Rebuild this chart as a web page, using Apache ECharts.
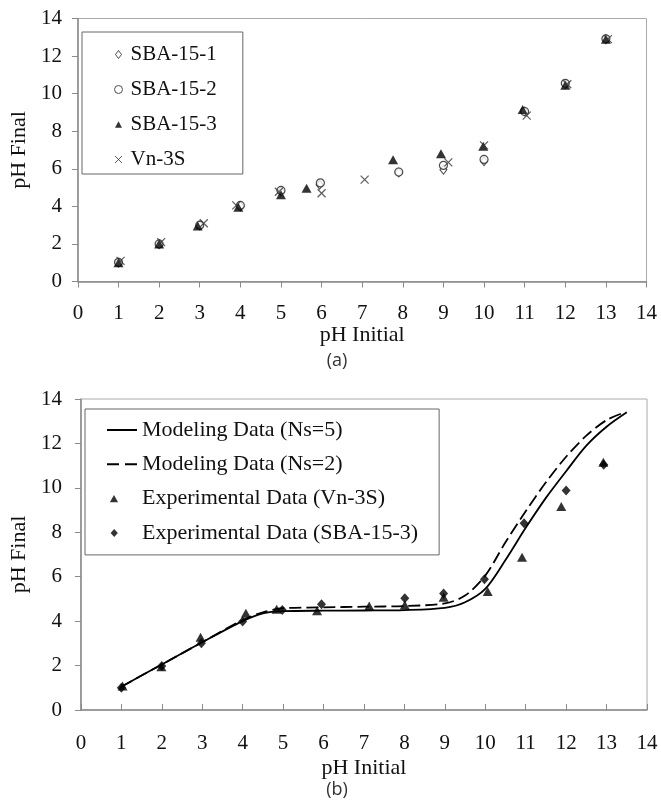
<!DOCTYPE html>
<html>
<head>
<meta charset="utf-8">
<script src="https://cdn.jsdelivr.net/npm/echarts@6/dist/echarts.min.js"></script>
<style>
html, body { margin: 0; padding: 0; background: #fff; }
#main { width: 661px; height: 807px; }
</style>
</head>
<body>
<div id="main"></div>
<script>
// (a) experimental points, [pH initial, pH final]
var sba1 = [[1, 1.0], [2, 1.98], [3, 2.98], [4, 4.0], [5, 4.8], [5.95, 5.15], [7.9, 5.8], [9, 5.95], [10, 6.4], [11, 9.05], [12, 10.5], [13, 12.9]];
var sba2 = [[1, 1.02], [2, 2.0], [3, 3.0], [4, 4.05], [5, 4.85], [5.97, 5.25], [7.9, 5.83], [9, 6.18], [10, 6.5], [11, 9.05], [12, 10.55], [13, 12.92]];
var sba3 = [[1, 1.0], [2, 2.0], [2.95, 2.95], [3.95, 3.95], [5, 4.62], [5.63, 4.97], [7.76, 6.48], [8.94, 6.8], [9.98, 7.2], [10.95, 9.15], [12, 10.45], [13, 12.9]];
var vn3s = [[1.05, 1.1], [2.05, 2.1], [3.1, 3.1], [3.9, 4.05], [4.95, 4.78], [6.0, 4.7], [7.06, 5.42], [9.12, 6.34], [10.0, 7.25], [11.05, 8.83], [12.05, 10.5], [13.05, 12.9]];

// (b) model curves and experimental points
var modelNs5 = [[1.0, 1.05], [2, 2.05], [3, 3.05], [4, 4.0], [4.5, 4.35], [5, 4.45], [6, 4.47], [7, 4.48], [8, 4.5], [9, 4.6], [9.5, 4.85], [10, 5.45], [10.5, 6.75], [11, 8.2], [11.5, 9.55], [12, 10.75], [12.5, 11.9], [13, 12.75], [13.5, 13.4]];
var modelNs2 = [[1.0, 1.05], [2, 2.05], [3, 3.05], [4, 4.05], [4.5, 4.4], [5, 4.58], [6, 4.62], [7, 4.65], [8, 4.68], [9, 4.8], [9.5, 5.15], [10, 6.05], [10.5, 7.55], [11, 8.95], [11.5, 10.25], [12, 11.4], [12.5, 12.35], [13, 13.05], [13.45, 13.4]];
var expVn3s = [[1.03, 1.08], [1.99, 1.95], [2.96, 3.27], [4.08, 4.35], [4.84, 4.53], [5.84, 4.47], [7.13, 4.68], [8.01, 4.73], [8.97, 5.08], [10.06, 5.33], [10.91, 6.88], [11.88, 9.16], [12.92, 11.15]];
var expSba3 = [[1.0, 1.0], [2.0, 1.98], [2.98, 3.0], [4.0, 3.98], [4.98, 4.5], [5.95, 4.76], [8.01, 5.03], [8.97, 5.25], [9.98, 5.89], [10.96, 8.41], [12.0, 9.88], [12.93, 11.04]];

var legendA = ['SBA-15-1', 'SBA-15-2', 'SBA-15-3', 'Vn-3S'];
var legendB = ['Modeling Data (Ns=5)', 'Modeling Data (Ns=2)', 'Experimental Data (Vn-3S)', 'Experimental Data (SBA-15-3)'];

var serif = '"Liberation Serif", "Times New Roman", serif';
var ink = '#111';
var axisGray = '#8a8a8a';

function xAxisOf(grid, tickInside, labelMargin, nameGap) {
  return {
    gridIndex: grid, type: 'value', min: 0, max: 14, interval: 1,
    name: 'pH Initial', nameLocation: 'middle', nameGap: nameGap,
    nameTextStyle: { fontFamily: serif, fontSize: 22, color: ink },
    axisLine: { lineStyle: { color: axisGray, width: 1.5 } },
    axisTick: { inside: tickInside, length: 6, lineStyle: { color: axisGray } },
    axisLabel: { margin: labelMargin, fontFamily: serif, fontSize: 21, color: ink },
    splitLine: { show: false }
  };
}
function yAxisOf(grid, labelMargin, nameGap) {
  return {
    gridIndex: grid, type: 'value', min: 0, max: 14, interval: 2,
    name: 'pH Final', nameLocation: 'middle', nameGap: nameGap,
    nameTextStyle: { fontFamily: serif, fontSize: 22, color: ink },
    axisLine: { show: true, lineStyle: { color: axisGray, width: 1.5 } },
    axisTick: { show: true, inside: false, length: 6, lineStyle: { color: axisGray } },
    axisLabel: { margin: labelMargin, fontFamily: serif, fontSize: 21, color: ink },
    splitLine: { show: false }
  };
}

var crossPath = 'path://M0,0L10,10M10,0L0,10';
// top legend icons
var diaIconA = 'path://M7,0L10,4L7,8L4,4ZM0,4L0,4M14,4L14,4';
var triIconA = 'path://M7,1L10.5,7.5L3.5,7.5ZM0,4L0,4M14,4L14,4';
var crossIconA = 'path://M3.5,0.5L10.5,7.5M10.5,0.5L3.5,7.5M0,4L0,4M14,4L14,4';
// bottom legend icons: line samples as thin bars, markers padded on the right
var solidIcon = 'path://M0,0H30V2H0Z';
var dashIcon = 'path://M0,0H12V2H0ZM18,0H30V2H18Z';
var triIcon = 'path://M9.3,0L14.8,9.5L3.8,9.5ZM0,4.75L0,4.75M40,4.75L40,4.75';
var diaIcon = 'path://M9.3,0L14.3,5.5L9.3,11L4.3,5.5ZM0,5.5L0,5.5M40,5.5L40,5.5';

var chart = echarts.init(document.getElementById('main'), null, { renderer: 'canvas' });
var option = {
  backgroundColor: '#fff',
  animation: false,
  grid: [
    { left: 68.5, top: 18.5, width: 578, height: 263, show: true, borderColor: '#aaa', borderWidth: 1 },
    { left: 65.5, top: 399, width: 581.5, height: 311, show: true, borderColor: '#aaa', borderWidth: 1 }
  ],
  xAxis: [xAxisOf(0, false, 21, 41), xAxisOf(1, true, 23, 47)],
  yAxis: [yAxisOf(0, 16, 25), yAxisOf(1, 19, 16)],
  legend: [
    {
      data: [
        { name: legendA[0], icon: diaIconA }, { name: legendA[1] },
        { name: legendA[2], icon: triIconA }, { name: legendA[3], icon: crossIconA }
      ],
      orient: 'vertical', left: 82, top: 32,
      padding: [12, 26, 4, 27], itemGap: 14, itemWidth: 14, itemHeight: 8,
      borderColor: '#666', borderWidth: 1, selectedMode: false,
      itemStyle: { borderWidth: 1 },
      textStyle: { fontFamily: serif, fontSize: 21, color: ink }
    },
    {
      data: [
        { name: legendB[0], icon: solidIcon }, { name: legendB[1], icon: dashIcon },
        { name: legendB[2], icon: triIcon }, { name: legendB[3], icon: diaIcon }
      ],
      orient: 'vertical', left: 85, top: 409,
      padding: [10, 21, 11, 22], itemGap: 12.3, itemWidth: 30, itemHeight: 8,
      borderColor: '#666', borderWidth: 1, selectedMode: false,
      itemStyle: { color: '#000', borderWidth: 0 },
      lineStyle: { width: 0 },
      textStyle: { fontFamily: serif, fontSize: 22, color: ink }
    }
  ],
  graphic: [
    { type: 'text', x: 337, y: 361, style: { text: '(a)', align: 'center', verticalAlign: 'middle', font: '18px "Open Sans", sans-serif', fill: '#333' } },
    { type: 'text', x: 337, y: 790, style: { text: '(b)', align: 'center', verticalAlign: 'middle', font: '18px "Open Sans", sans-serif', fill: '#333' } }
  ],
  series: [
    { name: legendA[0], type: 'scatter', xAxisIndex: 0, yAxisIndex: 0, data: sba1, symbol: 'diamond', symbolSize: [7, 9],
      itemStyle: { color: '#fff', borderColor: '#222', borderWidth: 1 } },
    { name: legendA[1], type: 'scatter', xAxisIndex: 0, yAxisIndex: 0, data: sba2, symbol: 'circle', symbolSize: 8,
      itemStyle: { color: '#fff', borderColor: '#222', borderWidth: 1.2 } },
    { name: legendA[2], type: 'scatter', xAxisIndex: 0, yAxisIndex: 0, data: sba3, symbol: 'triangle', symbolSize: [10, 9],
      itemStyle: { color: '#000' } },
    { name: legendA[3], type: 'scatter', xAxisIndex: 0, yAxisIndex: 0, data: vn3s, symbol: crossPath, symbolSize: 8,
      itemStyle: { color: 'none', borderColor: '#333', borderWidth: 1.2 } },

    { name: legendB[0], type: 'line', xAxisIndex: 1, yAxisIndex: 1, data: modelNs5, symbol: 'none',
      smooth: 0.3, lineStyle: { color: '#000', width: 1.8, type: 'solid' }, itemStyle: { color: '#000' } },
    { name: legendB[1], type: 'line', xAxisIndex: 1, yAxisIndex: 1, data: modelNs2, symbol: 'none',
      smooth: 0.3, lineStyle: { color: '#000', width: 1.8, type: [12, 5] }, itemStyle: { color: '#000' } },
    { name: legendB[2], type: 'scatter', xAxisIndex: 1, yAxisIndex: 1, data: expVn3s, symbol: 'triangle', symbolSize: [10, 9],
      itemStyle: { color: '#000' } },
    { name: legendB[3], type: 'scatter', xAxisIndex: 1, yAxisIndex: 1, data: expSba3, symbol: 'diamond', symbolSize: [9, 10],
      itemStyle: { color: '#000' } }
  ]
};
chart.setOption(option);
</script>
</body>
</html>
